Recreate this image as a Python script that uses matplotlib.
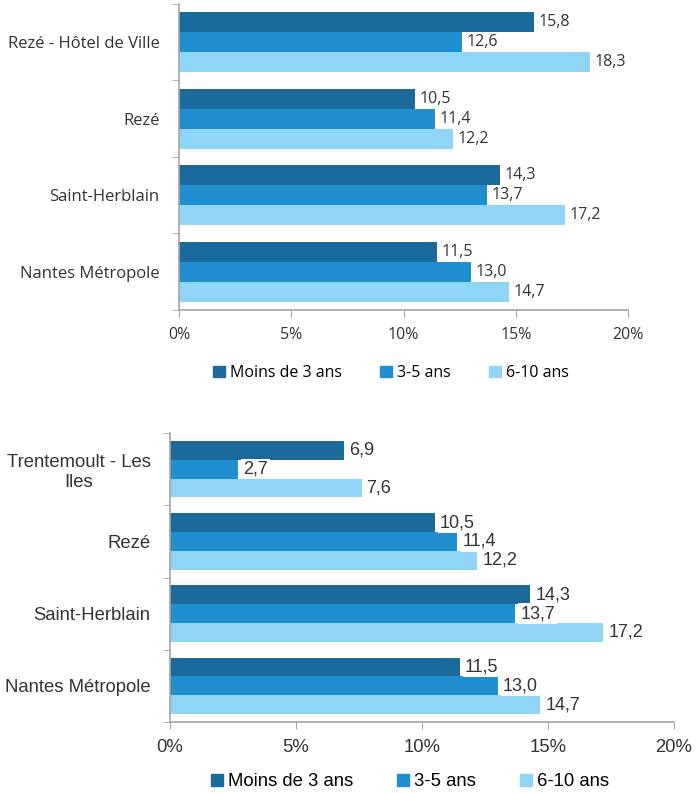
import matplotlib
matplotlib.use("Agg")
import matplotlib.pyplot as plt
import matplotlib.ticker as mt
from matplotlib.patches import Patch
import numpy as np

SERIES = ["Moins de 3 ans", "3-5 ans", "6-10 ans"]
COLORS = ["#1a6b9c", "#1f8fd0", "#8fd5f5"]

TOP_CATS = ["Rezé - Hôtel de Ville", "Rezé", "Saint-Herblain", "Nantes Métropole"]
TOP_M3 = [15.8, 10.5, 14.3, 11.5]
TOP_35 = [12.6, 11.4, 13.7, 13.0]
TOP_610 = [18.3, 12.2, 17.2, 14.7]

BOT_CATS = ["Trentemoult - Les\nIles", "Rezé", "Saint-Herblain", "Nantes Métropole"]
BOT_M3 = [6.9, 10.5, 14.3, 11.5]
BOT_35 = [2.7, 11.4, 13.7, 13.0]
BOT_610 = [7.6, 12.2, 17.2, 14.7]

TXT = "#333333"
AX = "#a6a6a6"


def draw(ax, cats, vals, font, fs_cat, fs_val, fs_tick):
    n = len(cats)
    y = np.arange(n)
    h = 0.26
    for i, v in enumerate(vals):
        pos = y - h + i * h
        ax.barh(pos, v, height=h, color=COLORS[i], zorder=2)
        for p, val in zip(pos, v):
            ax.text(val + 0.2, p, f"{val:.1f}".replace(".", ","), va="center", ha="left",
                    fontsize=fs_val, color=TXT, family=font, zorder=3,
                    bbox=dict(boxstyle="square,pad=0.1", fc="white", ec="none"))
    ax.set_ylim(n - 0.5, -0.5)
    ax.set_xlim(0, 20)
    ax.set_yticks(y)
    ax.set_yticklabels(cats, fontsize=fs_cat, color=TXT, family=font, multialignment="center")
    ax.set_yticks(np.arange(n + 1) - 0.5, minor=True)
    ax.tick_params(axis="y", which="major", length=0, pad=14)
    ax.tick_params(axis="y", which="minor", length=5, color=AX, direction="out")
    ax.set_xticks([0, 5, 10, 15, 20])
    ax.xaxis.set_major_formatter(mt.FuncFormatter(lambda x, _: f"{int(x)}%"))
    ax.tick_params(axis="x", length=5, color=AX, labelsize=fs_tick, labelcolor=TXT, pad=7)
    for t in ax.get_xticklabels():
        t.set_family(font)
    for s in ["top", "right"]:
        ax.spines[s].set_visible(False)
    for s in ["left", "bottom"]:
        ax.spines[s].set_color(AX)
        ax.spines[s].set_linewidth(1.2)


fig = plt.figure(figsize=(6.97, 7.93), dpi=100)
ax1 = fig.add_axes([179 / 697, 1 - 310 / 793, (628 - 179) / 697, 306 / 793])
ax2 = fig.add_axes([170 / 697, 1 - 722 / 793, (674 - 170) / 697, 289 / 793])

draw(ax1, TOP_CATS, [TOP_M3, TOP_35, TOP_610], "Open Sans", 12, 11.5, 11.5)
draw(ax2, BOT_CATS, [BOT_M3, BOT_35, BOT_610], "Liberation Sans", 13.3, 13, 13.3)

handles = [Patch(color=c, label=s) for c, s in zip(COLORS, SERIES)]
fig.legend(handles=handles, loc="center", bbox_to_anchor=(391 / 697, 1 - 373 / 793), ncol=3,
           frameon=False, handlelength=0.75, handleheight=0.75, handletextpad=0.3,
           columnspacing=2.4, prop={"family": "Open Sans", "size": 11.5})
fig.legend(handles=handles, loc="center", bbox_to_anchor=(410 / 697, 1 - 782 / 793), ncol=3,
           frameon=False, handlelength=0.65, handleheight=0.65, handletextpad=0.25,
           columnspacing=2.4, prop={"family": "Liberation Sans", "size": 13.3})

fig.savefig("out.png", dpi=100)
